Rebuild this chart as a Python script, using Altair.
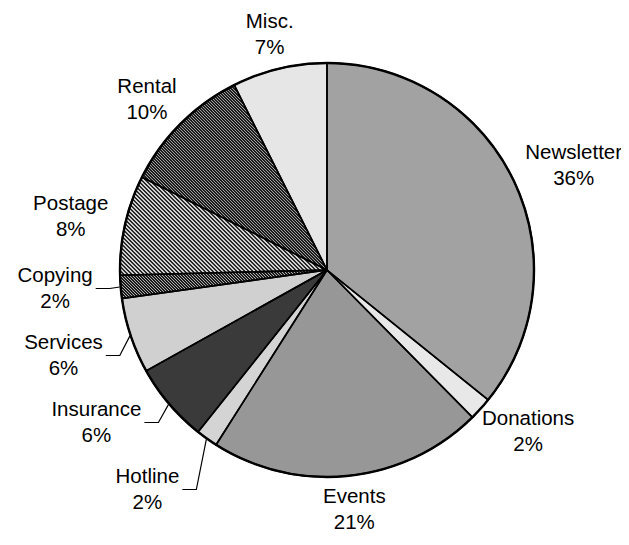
import math
import numpy as np
import altair as alt
import pandas as pd

# ---- data (clockwise from 12 o'clock) ----
categories = ["Newsletter", "Donations", "Events", "Hotline", "Insurance",
              "Services", "Copying", "Postage", "Rental", "Misc."]
values = [35.8, 1.8, 21.4, 1.7, 6.2, 5.9, 1.8, 7.8, 10.2, 7.4]
fills = ["#a2a2a2", "#e8e8e8", "#979797", "#d4d4d4", "#3a3a3a",
         "#d0d0d0", "#6a6a6a", "#8c8c8c", "#606060", "#e6e6e6"]
# diagonal hatching: (dark line colour, gap colour, horizontal period px, dark fraction)
hatched = {"Copying": ("#1a1a1a", "#b0b0b0", 3, 0.5),
           "Postage": ("#2a2a2a", "#d0d0d0", 4, 0.5),
           "Rental": ("#1c1c1c", "#a0a0a0", 3, 0.5)}

# ---- layout constants ----
W, H = 613, 529
CX, CY, R = 319, 262, 207
FS = 20.5
LH = 26
GX, GY = 18, 8
FONT = "Liberation Sans, Arial, sans-serif"

ARIAL = {'N': 722, 'e': 556, 'w': 722, 's': 500, 'l': 222, 't': 278, 'r': 333,
         'D': 722, 'o': 556, 'n': 556, 'a': 556, 'i': 222, 'E': 667, 'v': 500,
         'H': 722, 'I': 278, 'u': 556, 'c': 500, 'S': 667, 'C': 722, 'p': 556,
         'y': 500, 'g': 556, 'P': 667, 'R': 722, 'M': 833, '.': 278, '%': 889}


def text_w(s):
    return sum(ARIAL.get(ch, 556) for ch in s) * FS / 1000.0


def hatch_gradient(a0, a1, dark, light, hper, frac):
    ang = np.linspace(a0, a1, 600)
    xs_ = np.concatenate([[0.0], R * np.sin(ang)])
    ys_ = np.concatenate([[0.0], -R * np.cos(ang)])
    w = xs_.max() - xs_.min()
    h = ys_.max() - ys_.min()
    s = (w + h) / (w * w + h * h)
    # t = (X + (h - Y)) / (w + h): one stripe every `hper` pixels along a row
    n = (w + h) / hper
    stops = []
    k = 0
    while k / n < 1:
        o0, o1, o2 = k / n, min((k + frac) / n, 1), min((k + 1) / n, 1)
        stops += [alt.GradientStop(offset=o0, color=dark),
                  alt.GradientStop(offset=o1, color=dark),
                  alt.GradientStop(offset=o1, color=light),
                  alt.GradientStop(offset=o2, color=light)]
        k += 1
    return alt.LinearGradient(gradient="linear", stops=stops,
                              x1=0, y1=1, x2=s * w, y2=1 - s * h)


total = sum(values)
slices, labels, leaders = [], [], []
cum = 0.0
info = []
for i, (c, v) in enumerate(zip(categories, values)):
    start = cum
    cum += v
    a0 = start / total * 2 * math.pi
    a1 = cum / total * 2 * math.pi
    mid = (a0 + a1) / 2
    pct = f"{round(v / total * 100)}%"
    slices.append({"cat": c, "start": start, "end": cum, "idx": i})
    info.append((i, c, v, mid, pct, a0, a1))

# leader labels: slices in the lower-left quadrant, stacked to avoid overlap
lead = [t for t in info if math.pi < t[3] < 1.5 * math.pi]
lead.sort(key=lambda t: -t[3])
prev_y = -1e9
lead_y = {}
for t in lead:
    uy = -math.cos(t[3])
    nat = CY + (R + 20) * uy
    y = max(nat, prev_y + 67)
    lead_y[t[1]] = y
    prev_y = y

for i, c, v, mid, pct, a0, a1 in info:
    ux, uy = math.sin(mid), -math.cos(mid)
    w = max(text_w(c), text_w(pct))
    if c in lead_y:
        ly = lead_y[c]
        p1 = (CX + (R + 1) * ux, CY + (R + 1) * uy)
        p2 = (p1[0] - 10, ly)
        p3 = (p2[0] - 14, ly)
        for k, p in enumerate([p1, p2, p3]):
            leaders.append({"cat": c, "seq": k, "x": p[0], "y": p[1]})
        lx = p3[0] - 3 - w / 2
    else:
        lx = CX + R * ux + ux * (w / 2 + GX)
        ly = CY + R * uy + uy * (LH + GY)
    labels.append({"cat": c, "pct": pct, "x": lx, "y": ly})

slice_df = pd.DataFrame(slices)
label_df = pd.DataFrame(labels)
leader_df = pd.DataFrame(leaders)
ring_df = pd.DataFrame([{"start": 0.0, "end": total}])

theta_scale = alt.Scale(domain=[0, total], range=[0, 2 * math.pi])
xs = alt.Scale(domain=[0, W], range=[0, W])
ys = alt.Scale(domain=[0, H], range=[0, H])

arc_enc = dict(theta=alt.Theta("start:Q", scale=theta_scale), theta2="end:Q",
               x=alt.value(CX), y=alt.value(CY))

pie = alt.Chart(slice_df).mark_arc(outerRadius=R, strokeWidth=0).encode(
    fill=alt.Fill("cat:N", scale=alt.Scale(domain=categories, range=fills), legend=None),
    **arc_enc,
)

layers = [pie]
for i, c, v, mid, pct, a0, a1 in info:
    if c in hatched:
        dark, light, hper, frac = hatched[c]
        layers.append(
            alt.Chart(slice_df).transform_filter(alt.datum.cat == c)
            .mark_arc(outerRadius=R, strokeWidth=0,
                      fill=hatch_gradient(a0, a1, dark, light, hper, frac))
            .encode(**arc_enc)
        )

outline = alt.Chart(slice_df).mark_arc(outerRadius=R, filled=False, stroke="black",
                                       strokeWidth=1.6).encode(**arc_enc)

ring = alt.Chart(ring_df).mark_arc(outerRadius=R, filled=False, stroke="black",
                                   strokeWidth=2.4).encode(**arc_enc)

lines = alt.Chart(leader_df).mark_line(color="black", strokeWidth=1.2).encode(
    x=alt.X("x:Q", scale=xs, axis=None),
    y=alt.Y("y:Q", scale=ys, axis=None),
    detail="cat:N",
    order="seq:Q",
)

name_txt = alt.Chart(label_df).mark_text(
    font=FONT, fontSize=FS, color="black", align="center", baseline="middle", dy=-LH / 2
).encode(
    x=alt.X("x:Q", scale=xs, axis=None),
    y=alt.Y("y:Q", scale=ys, axis=None),
    text="cat:N",
)

pct_txt = alt.Chart(label_df).mark_text(
    font=FONT, fontSize=FS, color="black", align="center", baseline="middle", dy=LH / 2
).encode(
    x=alt.X("x:Q", scale=xs, axis=None),
    y=alt.Y("y:Q", scale=ys, axis=None),
    text="pct:N",
)

chart = alt.layer(*layers, outline, ring, lines, name_txt, pct_txt).properties(
    width=W, height=H, padding=0,
    autosize=alt.AutoSizeParams(type="none"),
    background="white",
).configure_view(stroke=None)

chart.save("out.html", embed_options={"renderer": "svg", "actions": False})
